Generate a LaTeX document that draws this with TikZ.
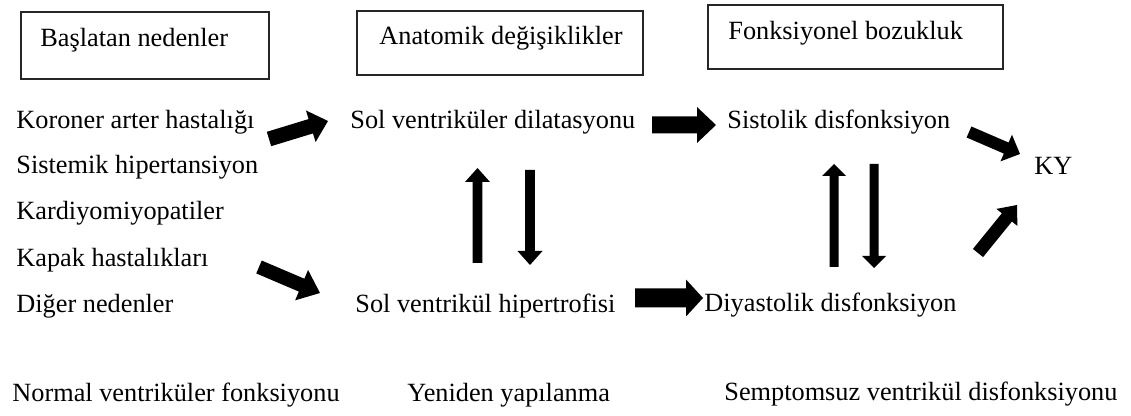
\documentclass[tikz,border=0pt]{standalone}
\usepackage{fontspec}
\setmainfont{Liberation Serif}
\usetikzlibrary{calc}
\tikzset{
  lbl/.style={anchor=base west, inner sep=0pt, font=\fontsize{13.15}{15}\selectfont},
  hdrbox/.style={draw=black!85, line width=0.55pt},
  blockfill/.style={fill=black},
}
% tail, tip, half shaft, half head, head length
\newcommand\blockarrow[5]{%
  \coordinate (hb) at ($(#2)!#5!(#1)$);
  \fill[blockfill] ($(#1)!#3!90:(#2)$) -- ($(hb)!#3!90:(#2)$) -- ($(hb)!#4!90:(#2)$)
    -- (#2) -- ($(hb)!#4!-90:(#2)$) -- ($(hb)!#3!-90:(#2)$) -- ($(#1)!#3!-90:(#2)$) -- cycle;
}
\begin{document}
\begin{tikzpicture}[x=0.5pt,y=-0.5pt]
\useasboundingbox (0,0) rectangle (1131,416);
% header boxes
\draw[hdrbox] (21,12) rectangle (269,79);
\draw[hdrbox] (357,11) rectangle (643,75);
\draw[hdrbox] (708,5) rectangle (1003,69);
\node[lbl] (b1t) at (40,47) {Başlatan nedenler};
\node[lbl] (b2t) at (379,45) {Anatomik değişiklikler};
\node[lbl] (b3t) at (728,40) {Fonksiyonel bozukluk};
% causes
\node[lbl] (k1) at (16,129) {Koroner arter hastalığı};
\node[lbl] (k2) at (16,174) {Sistemik hipertansiyon};
\node[lbl] (k3) at (16,220) {Kardiyomiyopatiler};
\node[lbl] (k4) at (16,267) {Kapak hastalıkları};
\node[lbl] (k5) at (16,313) {Diğer nedenler};
% middle / right
\node[lbl] (svd) at (350,129) {Sol ventriküler dilatasyonu};
\node[lbl] (svh) at (355,313) {Sol ventrikül hipertrofisi};
\node[lbl] (sis) at (727,129) {Sistolik disfonksiyon};
\node[lbl] (dia) at (704,312) {Diyastolik disfonksiyon};
\node[lbl] (ky) at (1034,175) {KY};
% bottom row
\node[lbl] (n1) at (12,402) {Normal ventriküler fonksiyonu};
\node[lbl] (n2) at (407,402) {Yeniden yapılanma};
\node[lbl] (n3) at (724,401) {Semptomsuz ventrikül disfonksiyonu};
% arrow end points
\coordinate (a1s) at (269,139); \coordinate (a1e) at (328,121);
\coordinate (a2s) at (259,267); \coordinate (a2e) at (320,293);
\coordinate (a3s) at (652,125); \coordinate (a3e) at (716,125);
\coordinate (a4s) at (635,298); \coordinate (a4e) at (703,298);
\coordinate (a5s) at (477.5,263); \coordinate (a5e) at (477.5,168);
\coordinate (a6s) at (530,170); \coordinate (a6e) at (530,265);
\coordinate (a7s) at (834,267); \coordinate (a7e) at (834,164);
\coordinate (a8s) at (874,164); \coordinate (a8e) at (874,268);
\coordinate (a9s) at (969,132); \coordinate (a9e) at (1020,154);
\coordinate (a10s) at (978,253); \coordinate (a10e) at (1017,205);
\blockarrow{a1s}{a1e}{3.75pt}{8.25pt}{9pt}
\blockarrow{a2s}{a2e}{3.5pt}{8.25pt}{10pt}
\blockarrow{a3s}{a3e}{4.25pt}{9pt}{9.5pt}
\blockarrow{a4s}{a4e}{4.75pt}{9.25pt}{8.5pt}
\blockarrow{a5s}{a5e}{2.4pt}{6.25pt}{7pt}
\blockarrow{a6s}{a6e}{2.4pt}{6.25pt}{7pt}
\blockarrow{a7s}{a7e}{2.25pt}{6pt}{6pt}
\blockarrow{a8s}{a8e}{2.25pt}{6pt}{6pt}
\blockarrow{a9s}{a9e}{3pt}{7.25pt}{7.5pt}
\blockarrow{a10s}{a10e}{3.25pt}{6.75pt}{8pt}
\end{tikzpicture}
\end{document}
